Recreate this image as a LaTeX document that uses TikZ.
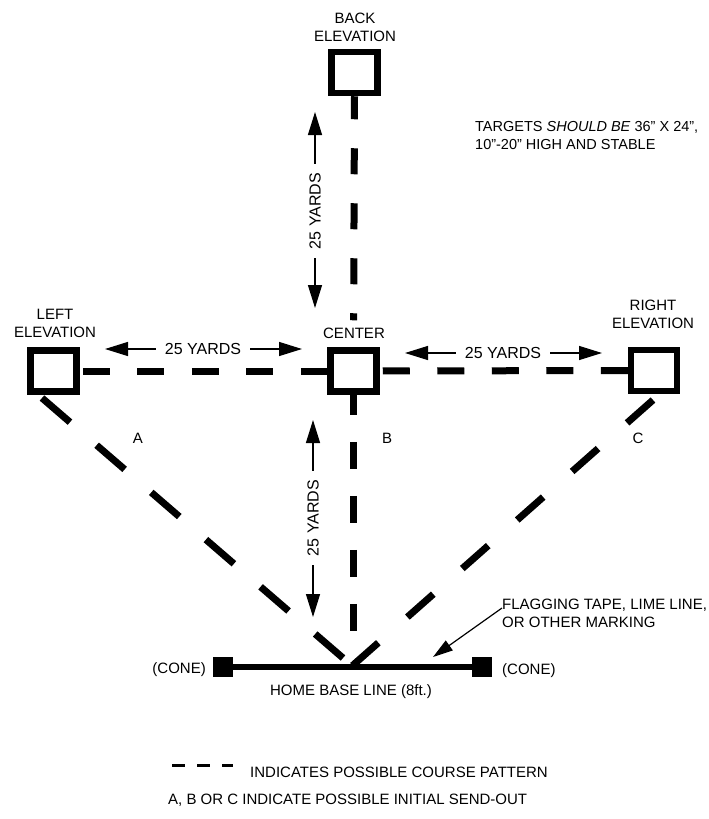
\documentclass[tikz,border=0pt]{standalone}
\usepackage{fontspec}
\setmainfont{Liberation Sans}
\usetikzlibrary{arrows.meta,calc}
\tikzset{
  txt/.style={font=\fontsize{15}{18}\selectfont, inner sep=0pt, align=center},
  yd/.style={font=\fontsize{16}{18}\selectfont, inner ysep=0pt, inner xsep=9pt},
  tgt/.style={draw, line width=6.5pt, minimum width=46pt, minimum height=41pt, inner sep=0pt},
  cone/.style={fill=black, minimum size=20pt, inner sep=0pt},
  course/.style={line width=7pt},
  yarr/.style={-{Triangle[length=23pt,width=14pt]}, line width=1.3pt},
  farr/.style={-{Triangle[length=20pt,width=12pt]}, line width=1.2pt},
}
\begin{document}
\begin{tikzpicture}[x=1pt,y=-1pt]
\useasboundingbox (0,0) rectangle (709,819);

% targets
\node[tgt] (back)   at (354.5,72.5) {};
\node[tgt] (left)   at (53.5,371) {};
\node[tgt] (center) at (353.5,371) {};
\node[tgt] (right)  at (654,370.5) {};

% labels of targets
\node[txt] (lback)   at (355,27.5) {BACK\\ELEVATION};
\node[txt] (lleft)   at (55,323) {LEFT\\ELEVATION};
\node[txt] (lright)  at (653,314) {RIGHT\\ELEVATION};
\node[txt] (lcenter) at (354,333) {CENTER};

% note
\node[txt, anchor=west, align=left, font=\fontsize{14.5}{18}\selectfont] (note) at (475,136)
  {TARGETS \textit{SHOULD BE} 36" X 24",\\10"-20" HIGH AND STABLE};

% home base
\node[cone] (cl) at (223,667) {};
\node[cone] (cr) at (482,667) {};
\draw[line width=6pt] (cl.center) -- (cr.center);
\coordinate (hbc) at (352,666);
\node[txt, anchor=east] (lcl) at (206,670) {(CONE)};
\node[txt, anchor=west] (lcr) at (502,671) {(CONE)};
\node[txt] (lhb) at (351,692) {HOME BASE LINE (8ft.)};

% course pattern
\draw[course, dash pattern=on 26pt off 29pt, dash phase=3pt, shorten >=27pt] (back.south) -- (center.north);
\coordinate (vb) at (353.5,632);
\draw[course, dash pattern=on 27pt off 27pt, dash phase=7pt] (center.south) -- (vb);
\draw[course, dash pattern=on 27pt off 27.5pt, dash phase=51.5pt] (left.east) -- (center.west);
\draw[course, dash pattern=on 27pt off 27.5pt, dash phase=51.5pt] (center.east) -- (right.west);
\coordinate (la) at (42,398);
\coordinate (lb) at (343,658);
\draw[course, dash pattern=on 37pt off 35.2pt] (la) -- (lb);
\coordinate (ra) at (653,400);
\draw[course, dash pattern=on 34.6pt off 38.7pt] (ra) -- (hbc);

% send-out letters
\node[txt] (A) at (138,438) {A};
\node[txt] (B) at (387,438) {B};
\node[txt] (C) at (638,438) {C};

% distance arrows
\node[yd] (h1) at (203,349) {25 YARDS};
\coordinate (h1l) at (105,349);
\coordinate (h1r) at (302,349);
\draw[yarr] (h1.west) -- (h1l);
\draw[yarr] (h1.east) -- (h1r);

\node[yd] (h2) at (503,353) {25 YARDS};
\coordinate (h2l) at (405,353);
\coordinate (h2r) at (602,353);
\draw[yarr] (h2.west) -- (h2l);
\draw[yarr] (h2.east) -- (h2r);

\node[yd, rotate=90] (v1) at (315,211) {25 YARDS};
\coordinate (v1t) at (315,112);
\coordinate (v1b) at (315,308);
\draw[yarr] (v1.east) -- (v1t);
\draw[yarr] (v1.west) -- (v1b);

\node[yd, rotate=90] (v2) at (313,518) {25 YARDS};
\coordinate (v2t) at (313,420);
\coordinate (v2b) at (313,617);
\draw[yarr] (v2.east) -- (v2t);
\draw[yarr] (v2.west) -- (v2b);

% flagging note
\node[txt, anchor=west, align=left] (fl) at (502,613) {FLAGGING TAPE, LIME LINE,\\OR OTHER MARKING};
\coordinate (ft) at (433,657);
\draw[farr] ([yshift=5pt]fl.west) -- (ft);

% legend
\coordinate (ld1) at (172,765);
\coordinate (ld2) at (233,765);
\draw[line width=3pt, dash pattern=on 13pt off 12pt] (ld1) -- (ld2);
\node[txt, anchor=west] (leg1) at (250,772) {INDICATES POSSIBLE COURSE PATTERN};
\node[txt, anchor=west] (leg2) at (168,800) {A, B OR C INDICATE POSSIBLE INITIAL SEND-OUT};
\end{tikzpicture}
\end{document}
